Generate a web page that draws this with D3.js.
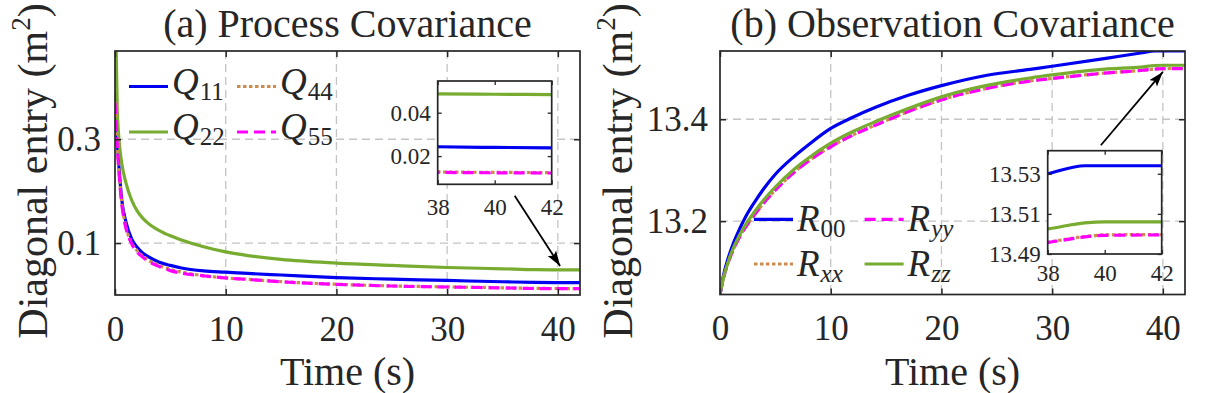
<!DOCTYPE html>
<html><head><meta charset="utf-8">
<script src="https://cdn.jsdelivr.net/npm/d3@7"></script>
<style>
body{margin:0;background:#fff}
svg{display:block}
text{font-family:"Liberation Serif","Times New Roman",serif;fill:#262626}
</style>
</head><body>
<svg id="chart" width="1210" height="393"></svg>
<script>
// ---------------- data ----------------
const timeA = [0, 0.2, 0.4, 0.6, 1, 1.5, 2, 2.5, 3, 4, 5, 6, 8, 10, 12, 15, 20, 25, 30, 35, 38, 40, 42];
const q11 = [0.39, 0.30, 0.235, 0.185, 0.14, 0.108, 0.092, 0.081, 0.074, 0.063, 0.057, 0.052, 0.0465, 0.044, 0.0415, 0.0385, 0.0335, 0.0305, 0.028, 0.0255, 0.0243, 0.0240, 0.0238];
const q22 = [0.60, 0.36, 0.29, 0.255, 0.215, 0.183, 0.162, 0.148, 0.138, 0.124, 0.114, 0.106, 0.093, 0.083, 0.076, 0.0685, 0.0615, 0.057, 0.053, 0.0505, 0.0487, 0.0485, 0.0483];
const q44 = [0.372, 0.292, 0.227, 0.180, 0.130, 0.101, 0.0852, 0.0752, 0.0672, 0.0572, 0.0492, 0.0442, 0.0372, 0.0329, 0.0302, 0.0257, 0.0207, 0.0175, 0.0156, 0.0139, 0.0127, 0.0125, 0.0124];
const q55 = [0.37, 0.29, 0.225, 0.178, 0.128, 0.099, 0.083, 0.073, 0.065, 0.055, 0.047, 0.042, 0.037, 0.0327, 0.030, 0.0255, 0.0205, 0.0173, 0.0154, 0.0137, 0.0125, 0.0123, 0.0122];

const timeB = [0, 0.3, 0.75, 1.2, 1.8, 2.4, 3.2, 4, 5, 6.7, 8, 10, 12, 14, 17, 20, 24, 28, 30, 35, 38, 39.3, 40, 42];
const r00 = [13.056, 13.092, 13.128, 13.156, 13.186, 13.212, 13.240, 13.265, 13.292, 13.327, 13.350, 13.382, 13.404, 13.423, 13.447, 13.466, 13.486, 13.498, 13.504, 13.520, 13.530, 13.534, 13.534, 13.534];
const rxx = [13.056, 13.0872, 13.1192, 13.1442, 13.1702, 13.1912, 13.2152, 13.2372, 13.2612, 13.2962, 13.3182, 13.3462, 13.3692, 13.3882, 13.4152, 13.4382, 13.4602, 13.4752, 13.4802, 13.4912, 13.4959, 13.4987, 13.4995, 13.4997];
const ryy = [13.056, 13.087, 13.119, 13.144, 13.170, 13.191, 13.215, 13.237, 13.261, 13.296, 13.318, 13.346, 13.369, 13.388, 13.415, 13.438, 13.460, 13.475, 13.480, 13.491, 13.4957, 13.4985, 13.4993, 13.4995];
const rzz = [13.056, 13.088, 13.121, 13.147, 13.174, 13.196, 13.221, 13.243, 13.267, 13.302, 13.324, 13.353, 13.376, 13.395, 13.421, 13.444, 13.466, 13.481, 13.487, 13.499, 13.5025, 13.5055, 13.506, 13.506];

const xTicks = [0, 10, 20, 30, 40];
const yTicksA = [0.1, 0.3];
const yTicksB = [13.2, 13.4];
const insetXTicks = [38, 40, 42];
const insetYTicksA = [0.02, 0.04];
const insetYTicksB = [13.49, 13.51, 13.53];
const xDomain = [0, 42];
const yDomainA = [0, 0.47];
const yDomainB = [13.056, 13.534];
const insetXDomain = [38, 42];
const insetYDomainA = [0.007, 0.0546];
const insetYDomainB = [13.49, 13.5415];
const arrowA = [[36.1, 0.191], [40.2, 0.056]];
const arrowB = [[34.4, 13.349], [40.0, 13.493]];

// ---------------- styles ----------------
const C = {blue:"#0000f0", green:"#77ac30", orange:"#cd8b4e", magenta:"#ff00ff"};
const seriesA = [
  {name:"Q", sub:"11", italicSub:false, vals:q11, color:C.blue, dash:null},
  {name:"Q", sub:"22", italicSub:false, vals:q22, color:C.green, dash:null},
  {name:"Q", sub:"44", italicSub:false, vals:q44, color:C.orange, dash:"3.5,2.5"},
  {name:"Q", sub:"55", italicSub:false, vals:q55, color:C.magenta, dash:"11,6"}
];
const seriesB = [
  {name:"R", sub:"00", italicSub:false, vals:r00, color:C.blue, dash:null},
  {name:"R", sub:"xx", italicSub:true, vals:rxx, color:C.orange, dash:"3.5,2.5"},
  {name:"R", sub:"yy", italicSub:true, vals:ryy, color:C.magenta, dash:"11,6"},
  {name:"R", sub:"zz", italicSub:true, vals:rzz, color:C.green, dash:null}
];

const svg = d3.select("#chart");
svg.append("rect").attr("width",1210).attr("height",393).attr("fill","#fff");
const defs = svg.append("defs");
defs.append("marker").attr("id","arrowhead").attr("markerUnits","userSpaceOnUse")
  .attr("markerWidth",16).attr("markerHeight",12).attr("refX",15).attr("refY",5)
  .attr("orient","auto")
  .append("path").attr("d","M0,0 L15,5 L0,10 L3,5 Z").attr("fill","#000");

function drawPanel(cfg){
  const {L,R,T,B,times,series,yDomain,yTicks,yFmt,title,legend,inset,arrow,id,ylabX,yPad} = cfg;
  const x = d3.scaleLinear().domain(xDomain).range([L,R]);
  const y = d3.scaleLinear().domain(yDomain).range([B,T]);
  const g = svg.append("g");
  defs.append("clipPath").attr("id","clip"+id).append("rect")
    .attr("x",L).attr("y",T).attr("width",R-L).attr("height",B-T);

  // grid
  const grid = g.append("g").attr("stroke","#c4c4c4").attr("stroke-width",1.3).attr("stroke-dasharray","8,5");
  grid.selectAll(".gx").data(xTicks.filter(d=>d>0)).join("line")
    .attr("x1",d=>x(d)).attr("x2",d=>x(d)).attr("y1",T).attr("y2",B);
  grid.selectAll(".gy").data(yTicks).join("line")
    .attr("y1",d=>y(d)).attr("y2",d=>y(d)).attr("x1",L).attr("x2",R);

  // lines
  const lineGen = vals => d3.line().x((d,i)=>x(times[i])).y(d=>y(d)).curve(d3.curveMonotoneX)(vals);
  const lg = g.append("g").attr("clip-path","url(#clip"+id+")");
  series.forEach(s=>{
    lg.append("path").attr("d",lineGen(s.vals)).attr("fill","none")
      .attr("stroke",s.color).attr("stroke-width",3.2)
      .attr("stroke-dasharray",s.dash);
  });

  // frame
  g.append("rect").attr("x",L).attr("y",T).attr("width",R-L).attr("height",B-T)
    .attr("fill","none").attr("stroke","#262626").attr("stroke-width",1.7);

  // axes
  const ax = g.append("g").attr("transform",`translate(0,${B})`)
    .call(d3.axisBottom(x).tickValues(xTicks).tickSize(-6).tickPadding(21).tickFormat(d3.format("d")));
  const at = g.append("g").attr("transform",`translate(0,${T})`)
    .call(d3.axisTop(x).tickValues(xTicks).tickSize(-6).tickFormat(""));
  const al = g.append("g").attr("transform",`translate(${L},0)`)
    .call(d3.axisLeft(y).tickValues(yTicks).tickSize(-6).tickPadding(yPad).tickFormat(yFmt));
  const ar = g.append("g").attr("transform",`translate(${R},0)`)
    .call(d3.axisRight(y).tickValues(yTicks).tickSize(-6).tickFormat(""));
  [ax,at,al,ar].forEach(a=>{
    a.select(".domain").remove();
    a.selectAll(".tick line").attr("stroke","#262626").attr("stroke-width",1.5);
    a.selectAll("text").attr("font-size",35).attr("fill","#262626")
      .attr("font-family","'Liberation Serif','Times New Roman',serif");
  });

  // title & labels
  g.append("text").attr("x",(L+R)/2).attr("y",37).attr("text-anchor","middle")
    .attr("font-size",40).text(title);
  g.append("text").attr("x",(L+R)/2).attr("y",385).attr("text-anchor","middle")
    .attr("font-size",40).text("Time (s)");
  const yl = g.append("text").attr("transform",`translate(${ylabX},171) rotate(-90)`)
    .attr("text-anchor","middle").attr("font-size",42);
  yl.append("tspan").text("Diagonal entry (m");
  yl.append("tspan").attr("font-size",27).attr("dy",-17).text("2");
  yl.append("tspan").attr("dy",17).text(")");

  // legend (transparent)
  legend.items.forEach((it,k)=>{
    const s = series[it];
    const col = k % 2, row = Math.floor(k/2);
    const lx = legend.x0 + col*legend.dx, ly = legend.y0 + row*legend.dy;
    g.append("line").attr("x1",lx).attr("x2",lx+legend.len).attr("y1",ly).attr("y2",ly)
      .attr("stroke",s.color).attr("stroke-width",3.2).attr("stroke-dasharray",s.dash);
    const t = g.append("text").attr("x",lx+legend.len+4).attr("y",ly+legend.base)
      .attr("font-size",37);
    t.append("tspan").attr("font-style","italic").text(s.name);
    t.append("tspan").attr("font-size",25).attr("dy",6).attr("dx",1)
      .attr("font-style",s.italicSub?"italic":"normal").text(s.sub);
  });

  // inset
  const I = inset;
  const ix = d3.scaleLinear().domain(insetXDomain).range([I.L,I.R]);
  const iy = d3.scaleLinear().domain(I.yDomain).range([I.B,I.T]);
  const ig = g.append("g");
  ig.append("rect").attr("x",I.L).attr("y",I.T).attr("width",I.R-I.L).attr("height",I.B-I.T).attr("fill","#fff");
  defs.append("clipPath").attr("id","iclip"+id).append("rect")
    .attr("x",I.L).attr("y",I.T).attr("width",I.R-I.L).attr("height",I.B-I.T);
  const il = ig.append("g").attr("clip-path","url(#iclip"+id+")");
  const iLine = vals => d3.line().x((d,i)=>ix(times[i])).y(d=>iy(d)).curve(d3.curveMonotoneX)(vals);
  series.forEach(s=>{
    il.append("path").attr("d",iLine(s.vals)).attr("fill","none")
      .attr("stroke",s.color).attr("stroke-width",3.2).attr("stroke-dasharray",s.dash);
  });
  ig.append("rect").attr("x",I.L).attr("y",I.T).attr("width",I.R-I.L).attr("height",I.B-I.T)
    .attr("fill","none").attr("stroke","#262626").attr("stroke-width",1.7);
  const ib = ig.append("g").attr("transform",`translate(0,${I.B})`)
    .call(d3.axisBottom(ix).tickValues(insetXTicks).tickSize(-4).tickPadding(I.xPad).tickFormat(d3.format("d")));
  const it_ = ig.append("g").attr("transform",`translate(0,${I.T})`)
    .call(d3.axisTop(ix).tickValues(insetXTicks).tickSize(-4).tickFormat(""));
  const ilft = ig.append("g").attr("transform",`translate(${I.L},0)`)
    .call(d3.axisLeft(iy).tickValues(I.yTicks).tickSize(-4).tickPadding(7).tickFormat(I.fmt));
  const irt = ig.append("g").attr("transform",`translate(${I.R},0)`)
    .call(d3.axisRight(iy).tickValues(I.yTicks).tickSize(-4).tickFormat(""));
  [ib,it_,ilft,irt].forEach(a=>{
    a.select(".domain").remove();
    a.selectAll(".tick line").attr("stroke","#262626").attr("stroke-width",1.3);
    a.selectAll("text").attr("font-size",23).attr("fill","#262626")
      .attr("font-family","'Liberation Serif','Times New Roman',serif");
  });

  // arrow
  g.append("line").attr("x1",x(arrow[0][0])).attr("y1",y(arrow[0][1]))
    .attr("x2",x(arrow[1][0])).attr("y2",y(arrow[1][1]))
    .attr("stroke","#000").attr("stroke-width",1.8).attr("marker-end","url(#arrowhead)");
}

drawPanel({
  id:"A", L:115, R:580, T:51, B:295, times:timeA, series:seriesA,
  yDomain:yDomainA, yTicks:yTicksA, yFmt:d3.format(".1f"), yPad:14, ylabX:47,
  title:"(a) Process Covariance",
  legend:{items:[0,2,1,3], x0:129, y0:86.5, dx:108, dy:45.5, len:39, base:7},
  inset:{L:437.7, R:551.7, T:81, B:184.3, yDomain:insetYDomainA, yTicks:insetYTicksA, fmt:d3.format(".2f"), xPad:14},
  arrow:arrowA
});
drawPanel({
  id:"B", L:720, R:1185, T:51, B:294.5, times:timeB, series:seriesB,
  yDomain:yDomainB, yTicks:yTicksB, yFmt:d3.format(".1f"), yPad:12, ylabX:632,
  title:"(b) Observation Covariance",
  legend:{items:[0,2,1,3], x0:754, y0:219.3, dx:110.6, dy:44.7, len:39, base:12},
  inset:{L:1047.7, R:1161.7, T:150.7, B:254, yDomain:insetYDomainB, yTicks:insetYTicksB, fmt:d3.format(".2f"), xPad:11},
  arrow:arrowB
});
</script>
</body></html>
